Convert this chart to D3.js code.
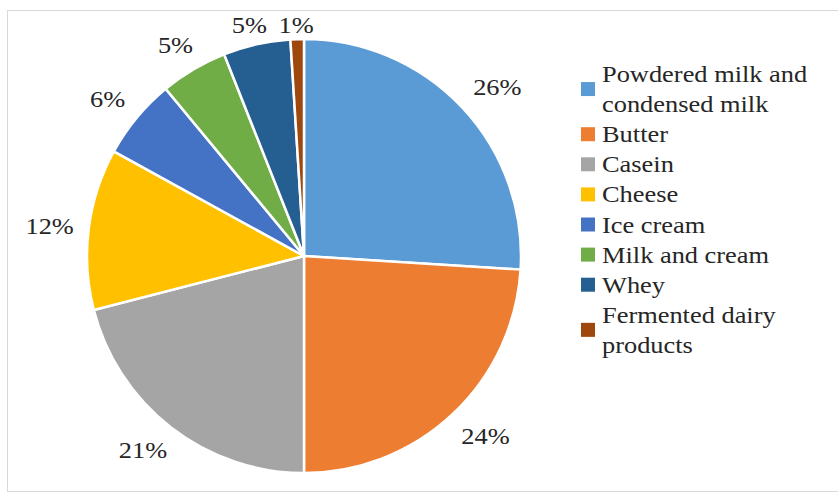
<!DOCTYPE html>
<html>
<head>
<meta charset="utf-8">
<script src="https://cdn.jsdelivr.net/npm/d3@7"></script>
<style>
  body { margin: 0; background: #fff; }
</style>
</head>
<body>
<div id="chart"></div>
<script>
// categories and shares (percent)
var categories = ["Powdered milk and condensed milk", "Butter", "Casein", "Cheese",
  "Ice cream", "Milk and cream", "Whey", "Fermented dairy products"];
var shares = [26, 24, 21, 12, 6, 5, 5, 1];
var colors = ["#5B9BD5", "#ED7D31", "#A5A5A5", "#FFC000", "#4472C4", "#70AD47", "#255E91", "#9E480E"];
// how the legend wraps each name
var legendLines = [["Powdered milk and", "condensed milk"], ["Butter"], ["Casein"], ["Cheese"],
  ["Ice cream"], ["Milk and cream"], ["Whey"], ["Fermented dairy", "products"]];

const FONT = "'Liberation Serif'";
const SX = 1.1; // the source text is a bit wide
const width = 838, height = 494;
const cx = 304, cy = 256, radius = 217;
const frameTop = 10;

const svg = d3.select("#chart")
  .append("svg")
  .attr("width", width)
  .attr("height", height);

// chart frame
svg.append("rect")
  .attr("x", 7.5).attr("y", frameTop + 0.5)
  .attr("width", 840).attr("height", 481)
  .attr("fill", "none")
  .attr("stroke", "#d9d9d9");

var data = categories.map((c, i) => ({ name: c, value: shares[i], color: colors[i] }));

var pie = d3.pie().value(d => d.value).sort(null);
var arc = d3.arc().innerRadius(0).outerRadius(radius);
var arcs = pie(data);

var g = svg.append("g")
  .attr("transform", "translate(" + cx + "," + cy + ")");

g.selectAll("path")
  .data(arcs)
  .enter().append("path")
  .attr("d", arc)
  .attr("fill", d => d.data.color)
  .attr("stroke", "#fff")
  .attr("stroke-width", 2.5);

// labels outside each slice: nearest box corner sits just past the edge
var fs = 24;
var labels = arcs.map(function (d) {
  var txt = d.data.value + "%";
  var w = txt.length === 2 ? 1.333 * fs * SX : 1.833 * fs * SX;
  var hw = w / 2, hh = 11;
  var a = (d.startAngle + d.endAngle) / 2;
  var s = Math.sin(a), c = Math.cos(a);
  var m = Math.max(Math.abs(s), Math.abs(c));
  var rr = radius + 15;
  var x = rr * s + hw * s / m;
  var y = -rr * c - hh * c / m;
  // keep inside the frame
  var minY = frameTop + 15 - cy;
  if (y < minY) y = minY;
  return { txt: txt, x: x, y: y, hw: hw, hh: hh };
});
// push overlapping labels leftwards, going counter-clockwise from the last slice
for (var i = labels.length - 2; i >= 0; i--) {
  var a = labels[i], b = labels[i + 1];
  if (Math.abs(a.y - b.y) < a.hh + b.hh && a.x + a.hw > b.x - b.hw && a.x < b.x) {
    a.x = b.x - b.hw - a.hw - 4;
  }
}

g.selectAll("text.lbl")
  .data(labels)
  .enter().append("text")
  .attr("class", "lbl")
  .attr("text-anchor", "middle")
  .attr("dominant-baseline", "central")
  .attr("transform", d => "translate(" + d.x + "," + d.y + ") scale(" + SX + ",1)")
  .style("font-family", FONT)
  .attr("font-size", fs)
  .attr("fill", "#262626")
  .text(d => d.txt);

// legend
var legend = svg.append("g");
var lineH = 30.1;
var lineIdx = 0;
legendLines.forEach(function (lines, i) {
  var y0 = 82 + lineIdx * lineH;
  var mid = y0 + (lines.length - 1) * lineH / 2 - 8;
  legend.append("rect")
    .attr("x", 581).attr("y", mid - 7)
    .attr("width", 14).attr("height", 14)
    .attr("fill", colors[i]);
  lines.forEach(function (t, j) {
    legend.append("text")
      .attr("transform", "translate(602," + (y0 + j * lineH) + ") scale(" + SX + ",1)")
      .style("font-family", FONT)
      .attr("font-size", 24)
      .attr("fill", "#262626")
      .text(t);
  });
  lineIdx += lines.length;
});
</script>
</body>
</html>
